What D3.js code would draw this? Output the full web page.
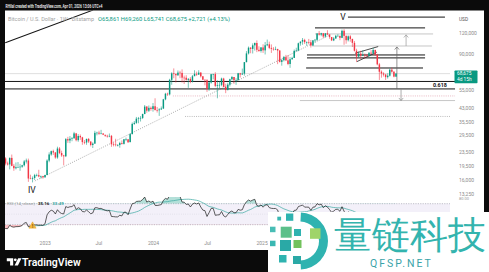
<!DOCTYPE html>
<html><head><meta charset="utf-8">
<script src="https://cdn.jsdelivr.net/npm/d3@7"></script>
<style>
html,body{margin:0;padding:0;background:#0b0b0b;overflow:hidden;}
svg{display:block;}
text{font-family:Roboto,"Liberation Sans",sans-serif;}
</style></head><body>
<svg id="c" width="489" height="272"></svg>
<script>
// ---------------- DATA ----------------
const startWeek = "2022-05-02";   // first weekly bar (Monday)
const firstOpen = 38500;
const closes = [
34300,31300,29450,29450,29900,26600,20550,21050,19300,20850,20800,22600,23300,23180,24300,21500,20050,
19800,21650,19420,18800,19050,19070,19200,19570,20630,20900,16330,16280,16450,17100,17100,16780,16840,16600,
17120,20880,22700,23740,23330,21780,24620,23150,22400,22150,28000,27500,28180,28330,30300,27600,29230,
28700,26900,26750,28080,27100,25850,26340,30530,30600,30170,30250,29750,29300,29050,29280,26100,26000,
25850,25850,26530,26250,27950,27950,26850,30000,34500,35000,37050,37380,37450,39500,43750,41350,43000,42300,
43950,41700,41600,42050,42600,48300,52150,51700,63100,68950,68300,67200,69650,69350,65000,64950,63100,63900,
61500,66250,68500,67750,69650,66200,63200,62700,55800,60800,68150,68250,58100,58700,58900,64200,57300,
54850,59100,63600,65600,62800,62900,69000,67900,68750,80400,90600,98000,96400,101200,104500,95200,93700,98300,
94500,101300,102600,97700,96500,96200,96300,94200,80700,82600,86100,82400,78400,83700,85200,93800,94300,
104100,106500,109000,105700,105700,105600,100900,108400,109200,119100,117300,119400,114200,119300,117400,113400,108300,
111200,115300,115300,112200,123500,115200,108600,114500,110500,104700,94000,86800,90400,88000,88500,88200,87800,91500,
90500,95000,89000,78000,70500,68800,67800,65500,66800,72500,70500,65954,68675];
const highs = [
40000,34800,31000,30600,32300,31500,26800,21900,21500,22500,21600,24250,24650,23650,25200,24450,21850,
20580,21800,22670,19950,20350,20450,19950,19700,21050,21450,21450,17200,16800,17400,17450,18400,17000,16950,
17200,21250,23360,23950,24250,23450,25250,25120,23900,22600,28400,28900,29200,28800,30950,30500,30000,
29850,28900,27650,28200,28450,27150,26800,31400,31000,31400,31800,30400,29600,29750,30250,29650,26800,
28150,26150,27000,27500,28050,28600,28000,30350,35200,35900,37950,37950,38400,39700,44700,44000,44400,43850,
45900,49000,43500,42800,43800,48600,52800,52900,64000,70000,73800,68900,71700,71400,72800,66900,67200,64700,
65500,67400,71950,70600,71950,70200,66500,63400,63700,61800,68400,68500,70000,62700,61800,65000,64900,
59800,60600,64100,66500,65600,64500,69400,69500,73600,80500,93500,99600,98900,104000,105200,108300,99900,98900,
102700,106000,109500,106400,102500,98800,99500,96500,95000,84100,87500,88800,88500,86100,86500,95600,97900,
105000,106700,111900,110700,106800,110500,108900,108500,110500,119500,123200,120200,119300,119400,124500,117600,113500,
113400,116800,117900,115400,125600,126200,115900,116000,116400,110800,107500,96600,93100,94000,94500,90500,90000,92000,
94700,97800,95500,90000,79500,71800,70000,68500,69000,73500,74500,71000,69260];
const lows = [
33700,26700,28650,28000,29300,26550,17600,19650,18650,19000,18900,20750,20700,22400,22650,20750,19550,
19520,18500,19300,18150,18500,19000,18150,18900,19250,20050,15600,16200,15480,16000,16800,16600,16300,16300,
16520,17150,20400,22300,22550,21400,21400,22800,21950,19550,21900,26600,26500,27200,28200,27150,27000,
27700,25900,26100,25900,26550,25350,24800,26250,29500,29700,30000,29600,28900,28600,28750,25200,25350,
25350,25350,24900,26000,26000,27250,26550,26900,29900,34050,34500,34800,35650,36850,39400,40200,40600,41300,
40800,41500,40300,38500,41800,42300,47700,50600,50900,59000,64500,60800,66500,64500,60800,59600,62400,56550,
60200,60800,66600,66600,67600,65100,63000,58500,53500,54300,59900,63500,57100,49000,56100,57800,57200,
52550,54600,57600,62700,59800,58900,62400,65100,67500,66800,80200,89300,90800,90500,94200,92200,92600,91600,
91200,89300,100000,96000,91200,94100,94800,78200,80000,76600,81200,81600,77100,74400,83000,85100,92800,
93400,100700,102000,103100,100400,102700,98200,100900,105200,107500,115700,114700,111900,112600,116900,110700,107300,
107200,110500,114700,108600,111600,102000,103500,106700,106300,98900,93000,80600,86100,84000,87500,84500,86500,86800,
89500,90000,87500,77000,63000,65000,66000,63000,64200,66000,69500,65300,65741];

const priceTicks = [120000, 90000, 55000, 43000, 35500, 29500, 23500, 19500, 16000, 13250];
const timeTickDates = ["2023-01-01","2023-07-01","2024-01-01","2024-07-01","2025-01-01"];
const timeTickLabels = ["2023","Jul","2024","Jul","2025"];
const rsiTicks = [80];

// drawn levels: [price, from, to]
const blackLevels = [[149000,"2025-10-19","2026-09-11"],[128500,"2025-06-30","2026-07-06"],
  [88700,"2025-06-03","2026-07-06"],[85200,"2025-06-03","2026-07-06"],[74200,"2025-05-31","2026-06-29"],
  [61700,"2022-08-15","2026-10-15"],[55700,"2022-08-15","2026-10-15"]];
const grayLevels = [[118300,"2025-06-30","2026-08-02"],[100300,"2025-06-20","2026-07-29"],[47500,"2025-05-10","2026-10-15"]];
const pinkDotLevels = [[50600,"2024-03-08","2026-10-15"]];
const grayDotLevels = [[38200,"2024-04-18","2026-09-28"]];
const trendSolid = [["2022-08-21",104700],["2023-06-13",164000]];
const trendDotted = [["2022-11-29",15800],["2025-08-20",116900]];
const wedgeUpper = [["2025-11-12",90800],["2026-01-29",99500]];
const wedgeLower = [["2025-11-18",80950],["2026-01-24",92100]];
const arrowsUp = [["2026-04-02",55700,99000],["2026-05-03",100300,116800]];
const arrowsDown = [["2026-04-16",55700,47500]];
const waveLabels = [["V","2025-10-02",149000],["IV","2022-11-19",13950]];
const fibLabel = ["0.618","2026-08-25",55700];
const lastPrice = 68675, countdown = "4d 15h";
const rsiValueText = "35.16", rsiMaText = "33.49";

// --------------- SETUP ----------------
const parse = d3.timeParse("%Y-%m-%d");
const weeks = closes.map((_, i) => d3.timeMonday.offset(parse(startWeek), i));
const opens = closes.map((c, i) => i === 0 ? firstOpen : closes[i - 1]);

const svg = d3.select("#c");
const UP = "#089981", DN = "#f23645";
const L = 5, R = 484, T = 10.5, B = 250, PR = 450, PB = 197, RT = 197, RB = 237;

const x = d3.scaleTime().domain([parse("2023-01-02"), parse("2026-03-30")]).range([45, 396]);
const y = d3.scaleLog().domain([12000, 160000]).range([201.0, 11.9]);
const ry = d3.scaleLinear().domain([30, 70]).range([224.7, 203.7]);

svg.append("rect").attr("width", 489).attr("height", 272).attr("fill", "#0b0b0b");
svg.append("rect").attr("x", L).attr("y", T).attr("width", R - L).attr("height", B - T).attr("fill", "#fff");

const defs = svg.append("defs");
defs.append("clipPath").attr("id", "plot").append("rect").attr("x", L).attr("y", T).attr("width", PR - L).attr("height", PB - T);
defs.append("clipPath").attr("id", "full").append("rect").attr("x", L).attr("y", T).attr("width", R - L).attr("height", PB - T);
defs.append("clipPath").attr("id", "rsi").append("rect").attr("x", L).attr("y", RT).attr("width", PR - L).attr("height", RB - RT);
defs.append("clipPath").attr("id", "ob").append("rect").attr("x", L).attr("y", RT).attr("width", PR - L).attr("height", ry(70) - RT);
defs.append("clipPath").attr("id", "os").append("rect").attr("x", L).attr("y", ry(30)).attr("width", PR - L).attr("height", RB - ry(30));

// --------------- PRICE PANE ----------------
const ann = svg.append("g").attr("clip-path", "url(#full)");
ann.append("line").attr("x1", L).attr("x2", PR).attr("y1", y(lastPrice)).attr("y2", y(lastPrice))
  .attr("stroke", "#c8c8c8").attr("stroke-width", 0.6);

function levels(arr, stroke, width, dash) {
  ann.selectAll(null).data(arr).join("line")
    .attr("x1", d => x(parse(d[1]))).attr("x2", d => x(parse(d[2])))
    .attr("y1", d => y(d[0])).attr("y2", d => y(d[0]))
    .attr("stroke", stroke).attr("stroke-width", width).attr("stroke-dasharray", dash);
}
levels(grayLevels, "#b8b8b8", 0.8, null);
levels(pinkDotLevels, "#e3a8b4", 0.8, "1,1.2");
levels(grayDotLevels, "#aaa", 0.8, "1,1.2");

function seg(pts, stroke, width, dash) {
  ann.append("line").attr("x1", x(parse(pts[0][0]))).attr("y1", y(pts[0][1]))
    .attr("x2", x(parse(pts[1][0]))).attr("y2", y(pts[1][1]))
    .attr("stroke", stroke).attr("stroke-width", width).attr("stroke-dasharray", dash);
}
seg(trendDotted, "#8a8a8a", 0.7, "1,1.3");

// candles
const cg = svg.append("g").attr("clip-path", "url(#plot)");
const idx = d3.range(closes.length);
const bw = 1.45;
cg.selectAll("line.w").data(idx).join("line")
  .attr("x1", i => x(weeks[i])).attr("x2", i => x(weeks[i]))
  .attr("y1", i => y(highs[i])).attr("y2", i => y(lows[i]))
  .attr("stroke", i => closes[i] >= opens[i] ? UP : DN).attr("stroke-width", 0.55);
cg.selectAll("rect.b").data(idx).join("rect")
  .attr("x", i => x(weeks[i]) - bw / 2).attr("width", bw)
  .attr("y", i => y(Math.max(opens[i], closes[i])))
  .attr("height", i => Math.max(0.6, Math.abs(y(opens[i]) - y(closes[i]))))
  .attr("fill", i => closes[i] >= opens[i] ? UP : DN);

levels(blackLevels, "#151515", 1, null);
seg(trendSolid, "#151515", 1.1, null);
seg(wedgeUpper, "#222", 0.8, null);
seg(wedgeLower, "#222", 0.8, null);

function arrow(d, up, stroke) {
  const ax = x(parse(d[0])), y0 = y(d[1]), y1 = y(d[2]);
  ann.append("line").attr("x1", ax).attr("x2", ax).attr("y1", y0).attr("y2", y1)
    .attr("stroke", stroke).attr("stroke-width", 0.7);
  const s = up ? 1 : -1;
  ann.append("path").attr("d", `M${ax - 2.2},${y1 + 2.6 * s} L${ax},${y1} L${ax + 2.2},${y1 + 2.6 * s}`)
    .attr("fill", "none").attr("stroke", stroke).attr("stroke-width", 0.7);
}
arrow(arrowsUp[0], true, "#666");
arrow(arrowsUp[1], true, "#9a9a9a");
arrow(arrowsDown[0], false, "#8a8a8a");

svg.selectAll("text.wave").data(waveLabels).join("text")
  .attr("x", d => x(parse(d[1]))).attr("y", d => y(d[2]))
  .attr("text-anchor", "middle").attr("dominant-baseline", "central")
  .attr("font-size", 8.5).attr("fill", "#111").text(d => d[0]);
svg.append("text").attr("x", x(parse(fibLabel[1]))).attr("y", y(fibLabel[2]) - 1.6)
  .attr("text-anchor", "middle").attr("font-size", 5.4).attr("font-weight", 700).attr("fill", "#111").text(fibLabel[0]);

// price axis
const pa = svg.append("g").attr("transform", `translate(457,0)`)
  .call(d3.axisRight(y).tickValues(priceTicks).tickFormat(d3.format(",")).tickSize(0).tickPadding(2));
pa.select(".domain").remove();
pa.selectAll("text").attr("font-size", 5).attr("fill", "#8c8c8c").attr("font-family", "Roboto, sans-serif");
svg.append("text").attr("x", 459).attr("y", 19).attr("dominant-baseline", "central")
  .attr("font-size", 4.8).attr("fill", "#555").text("USD");
const ly = y(lastPrice);
svg.append("rect").attr("x", 454.5).attr("y", ly - 3.2).attr("width", 23).attr("height", 12.8)
  .attr("fill", UP).attr("rx", 0.8);
svg.append("text").attr("x", 457).attr("y", ly + 0.1).attr("dominant-baseline", "central")
  .attr("font-size", 4.8).attr("fill", "#fff").text(d3.format(",")(lastPrice));
svg.append("text").attr("x", 457).attr("y", ly + 6.1).attr("dominant-baseline", "central")
  .attr("font-size", 4.8).attr("fill", "#fff").text(countdown);

// --------------- RSI PANE ----------------
function rsiCalc(src, len) {
  const out = src.map(() => null);
  let g = 0, l = 0;
  for (let i = 1; i <= len; i++) { const d = src[i] - src[i - 1]; g += Math.max(d, 0); l += Math.max(-d, 0); }
  let ag = g / len, al = l / len;
  out[len] = 100 - 100 / (1 + ag / al);
  for (let i = len + 1; i < src.length; i++) {
    const d = src[i] - src[i - 1];
    ag = (ag * (len - 1) + Math.max(d, 0)) / len;
    al = (al * (len - 1) + Math.max(-d, 0)) / len;
    out[i] = al === 0 ? 100 : 100 - 100 / (1 + ag / al);
  }
  return out;
}
const rsi = rsiCalc(closes, 14);
const rsiMa = rsi.map((v, i) => i < 27 ? null : d3.mean(rsi.slice(i - 13, i + 1)));

const rg = svg.append("g").attr("clip-path", "url(#rsi)");
rg.append("rect").attr("x", L).attr("width", PR - L).attr("y", ry(70)).attr("height", ry(30) - ry(70))
  .attr("fill", "#7e57c2").attr("fill-opacity", 0.09);
[70, 30].forEach(v => rg.append("line").attr("x1", L).attr("x2", PR).attr("y1", ry(v)).attr("y2", ry(v))
  .attr("stroke", "#9a9aa8").attr("stroke-width", 0.6).attr("stroke-dasharray", "1.2,1.2"));
rg.append("line").attr("x1", L).attr("x2", PR).attr("y1", ry(50)).attr("y2", ry(50))
  .attr("stroke", "#c5c5d0").attr("stroke-width", 0.5).attr("stroke-dasharray", "0.6,1.6");

const okIdx = idx.filter(i => rsi[i] != null);
rg.append("path").attr("clip-path", "url(#ob)")
  .attr("d", d3.area().x(i => x(weeks[i])).y0(ry(70)).y1(i => ry(rsi[i]))(okIdx))
  .attr("fill", "#089981").attr("fill-opacity", 0.3);
rg.append("path").attr("clip-path", "url(#os)")
  .attr("d", d3.area().x(i => x(weeks[i])).y0(ry(30)).y1(i => ry(rsi[i]))(okIdx))
  .attr("fill", "#f23645").attr("fill-opacity", 0.3);
rg.append("path").attr("d", d3.line().x(i => x(weeks[i])).y(i => ry(rsiMa[i]))(idx.filter(i => rsiMa[i] != null)))
  .attr("fill", "none").attr("stroke", "#3aa7a0").attr("stroke-width", 0.7);
rg.append("path").attr("d", d3.line().x(i => x(weeks[i])).y(i => ry(rsi[i]))(okIdx))
  .attr("fill", "none").attr("stroke", "#1a1a1a").attr("stroke-width", 0.7);

const wx = x(parse("2022-11-21")), wy = ry(30) + 0.5;
svg.append("path").attr("d", `M${wx},${wy - 3.4} L${wx + 3.6},${wy + 3} L${wx - 3.6},${wy + 3} Z`)
  .attr("fill", "#f4b942").attr("stroke", "#e0a020").attr("stroke-width", 0.4);
svg.append("text").attr("x", wx).attr("y", wy + 2.4).attr("text-anchor", "middle")
  .attr("font-size", 4.5).attr("font-weight", 700).attr("fill", "#5a4000").text("!");

const leg = svg.append("text").attr("x", 7).attr("y", 205).attr("font-size", 4.4);
leg.append("tspan").attr("fill", "#a0a0a0").text("RSI (14, close)");
leg.append("tspan").attr("dx", 3).attr("fill", "#222").attr("font-weight", 700).text(rsiValueText);
leg.append("tspan").attr("dx", 3).attr("fill", "#3aa7a0").attr("font-weight", 700).text(rsiMaText);

const ra = svg.append("g").attr("transform", `translate(457,0)`)
  .call(d3.axisRight(ry).tickValues(rsiTicks).tickFormat(d3.format(".2f")).tickSize(0).tickPadding(2));
ra.select(".domain").remove();
ra.selectAll("text").attr("font-size", 4).attr("fill", "#9a9a9a");

const ta = svg.append("g").attr("transform", `translate(0,241)`)
  .call(d3.axisBottom(x).tickValues(timeTickDates.map(parse)).tickFormat((d, i) => timeTickLabels[i]).tickSize(0).tickPadding(0));
ta.select(".domain").remove();
ta.selectAll("text").attr("font-size", 5).attr("fill", "#8c8c8c");

// --------------- HEADER / FOOTER ----------------
svg.append("text").attr("x", 5.5).attr("y", 7.6).attr("font-size", 4.6).attr("font-weight", 600)
  .attr("fill", "#f2f2f2").attr("textLength", 97).attr("lengthAdjust", "spacingAndGlyphs")
  .text("RHilal created with TradingView.com, Apr 01, 2026 13:06 UTC+4");
const hd = svg.append("text").attr("x", 8).attr("y", 20.6).attr("font-size", 4.6);
hd.append("tspan").attr("fill", "#a3a3a3").attr("textLength", 86).attr("lengthAdjust", "spacingAndGlyphs")
  .text("Bitcoin / U.S. Dollar · 1W · Bitstamp");
hd.append("tspan").attr("x", 98).attr("fill", UP).attr("textLength", 132).attr("lengthAdjust", "spacingAndGlyphs")
  .text("O65,861  H69,260  L65,741  C68,675  +2,721 (+4.13%)");

const lg = svg.append("g").attr("fill", "#fff");
lg.append("path").attr("d", "M6.8,258.3 h6.4 v7.2 h-3.1 v-4.3 h-3.3 z");
lg.append("circle").attr("cx", 15.3).attr("cy", 259.8).attr("r", 1.4);
lg.append("path").attr("d", "M18.2,258.3 h3.3 l-3.6,7.2 h-3.3 z");
svg.append("text").attr("x", 22).attr("y", 265.6).attr("font-family", "Inter, Roboto, sans-serif")
  .attr("font-size", 10.5).attr("font-weight", 600).attr("fill", "#fff").text("TradingView");

// --------------- WATERMARK ----------------
svg.append("rect").attr("x", 268).attr("y", 212).attr("width", 221).attr("height", 60).attr("fill", "#fff");
const wm = svg.append("g");
wm.append("path").attr("transform", "translate(299.5,241)")
  .attr("d", d3.arc().innerRadius(19.5).outerRadius(28.5).startAngle(0.05).endAngle(Math.PI - 0.05)())
  .attr("fill", "#2fb3b0");
const sq = [[277.3,216.7,3.8,"#3ab7b2"],[286,213.5,7.3,"#2fb3b0"],[270,226.7,5.5,"#48bdb5"],[280.7,226.7,11,"#5cc08a"],
  [294,229,7,"#2fb3b0"],[310,228.3,10.5,"#9fd46a"],[270,240.7,5.5,"#3ab7b2"],[280,240,11,"#2aa9a6"],
  [293.5,240,8,"#72c25c"],[279,255,7.5,"#2fb3b0"],[293,256,8,"#2aa9a6"]];
wm.selectAll("rect").data(sq).join("rect")
  .attr("x", d => d[0]).attr("y", d => d[1]).attr("width", d => d[2]).attr("height", d => d[2]).attr("fill", d => d[3]);
svg.append("text").attr("x", 334).attr("y", 247.5).attr("font-family", "'Noto Sans CJK SC', sans-serif")
  .attr("font-size", 37.5).attr("fill", "#33b4ae").attr("textLength", 152).text("量链科技");
svg.append("text").attr("x", 370).attr("y", 266.5).attr("font-family", "Roboto, sans-serif")
  .attr("font-size", 10.5).attr("letter-spacing", 2).attr("fill", "#3aa3a8").text("QFSP.NET");
</script>
</body></html>
